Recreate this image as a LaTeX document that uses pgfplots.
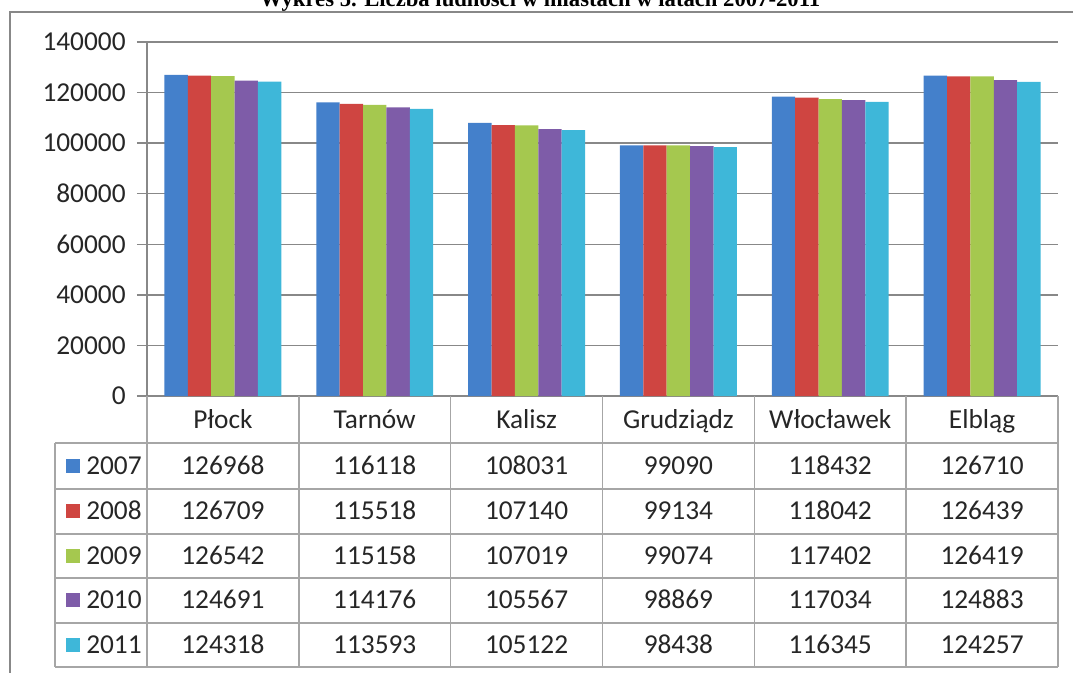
\documentclass[border=0pt]{standalone}
\usepackage{fontspec}
\setmainfont{Carlito}
\newfontfamily\titlefont{Liberation Serif}
\usepackage{pgfplots}
\usepackage{pgfplotstable}
\pgfplotsset{compat=1.18}

\definecolor{c2007}{HTML}{4480CB}
\definecolor{c2008}{HTML}{CF4541}
\definecolor{c2009}{HTML}{A5C84F}
\definecolor{c2010}{HTML}{7E5CA8}
\definecolor{c2011}{HTML}{3EB7D9}
\definecolor{gridgray}{HTML}{888888}
\definecolor{tabgray}{HTML}{A6A6A6}

% population per city and year
\pgfplotstableread{
city      y2007  y2008  y2009  y2010  y2011
Płock     126968 126709 126542 124691 124318
Tarnów    116118 115518 115158 114176 113593
Kalisz    108031 107140 107019 105567 105122
Grudziądz 99090  99134  99074  98869  98438
Włocławek 118432 118042 117402 117034 116345
Elbląg    126710 126439 126419 124883 124257
}\data

\newcommand\tabfont{\fontsize{20.5}{21}\selectfont}

\begin{document}
\begin{tikzpicture}
\useasboundingbox (0,0) rectangle (804.75pt,-504.75pt);
\clip (0,0) rectangle (804.75pt,-504.75pt);

\begin{axis}[
  at={(110.25pt,-297pt)}, anchor=south west,
  scale only axis, width=683.25pt, height=265.5pt,
  xmin=-0.5, xmax=5.5, ymin=0, ymax=140000,
  xtick=\empty, ytick distance=20000,
  scaled y ticks=false,
  axis y line=left, axis x line=bottom,
  axis line style={gridgray, line width=1pt, -},
  ymajorgrids, grid style={gridgray, line width=1.1pt},
  major tick length=7.5pt, tick align=outside,
  tick style={gridgray, line width=1pt},
  yticklabel style={font=\tabfont, text=black!85, xshift=-5pt,
    /pgf/number format/fixed, /pgf/number format/1000 sep={}},
  /pgf/number format/assume math mode=true,
  ybar, bar width=0.154,
  clip=false,
]
\addplot[fill=c2007, draw=none, bar shift=-0.308] table[x expr=\coordindex, y=y2007]{\data};
\addplot[fill=c2008, draw=none, bar shift=-0.154] table[x expr=\coordindex, y=y2008]{\data};
\addplot[fill=c2009, draw=none, bar shift=0]      table[x expr=\coordindex, y=y2009]{\data};
\addplot[fill=c2010, draw=none, bar shift=0.154]  table[x expr=\coordindex, y=y2010]{\data};
\addplot[fill=c2011, draw=none, bar shift=0.308]  table[x expr=\coordindex, y=y2011]{\data};
\end{axis}

\begin{scope}[x=0.75pt, y=-0.75pt]
  % chart frame
  \draw[gridgray, line width=2pt] (10,700) -- (10,12) -- (1100,12);
  % title, cut at the top like the reference
  \node[anchor=base, font=\titlefont\bfseries\fontsize{17}{17}\selectfont]
    at (540,7) {Wykres 5. Liczba ludności w miastach w latach 2007-2011};

  % data table
  \begin{scope}[tabgray, line width=1.1pt]
    \foreach \yy in {443,489,534,578,623,667}
      \draw (55,\yy) -- (1058,\yy);
    \draw (55,443) -- (55,667);
    \foreach \i in {0,...,6}
      \draw ({147+151.83*\i},396) -- ({147+151.83*\i},667);
  \end{scope}

  \foreach \i in {0,...,5} {
    \pgfplotstablegetelem{\i}{city}\of\data
    \node[font=\tabfont, text=black!85, anchor=base] at ({147+151.83*(\i+0.5)},428) {\pgfplotsretval};
  }

  \foreach \yr/\yc in {2007/466,2008/511,2009/556,2010/600,2011/645} {
    \fill[c\yr] (66,\yc-7) rectangle (80,\yc+7);
    \node[font=\tabfont, text=black!85, anchor=base west, inner sep=0pt] at (86,\yc+8) {\yr};
    \foreach \i in {0,...,5} {
      \pgfplotstablegetelem{\i}{y\yr}\of\data
      \node[font=\tabfont, text=black!85, anchor=base] at ({147+151.83*(\i+0.5)},\yc+8) {\pgfplotsretval};
    }
  }
\end{scope}
\end{tikzpicture}
\end{document}
